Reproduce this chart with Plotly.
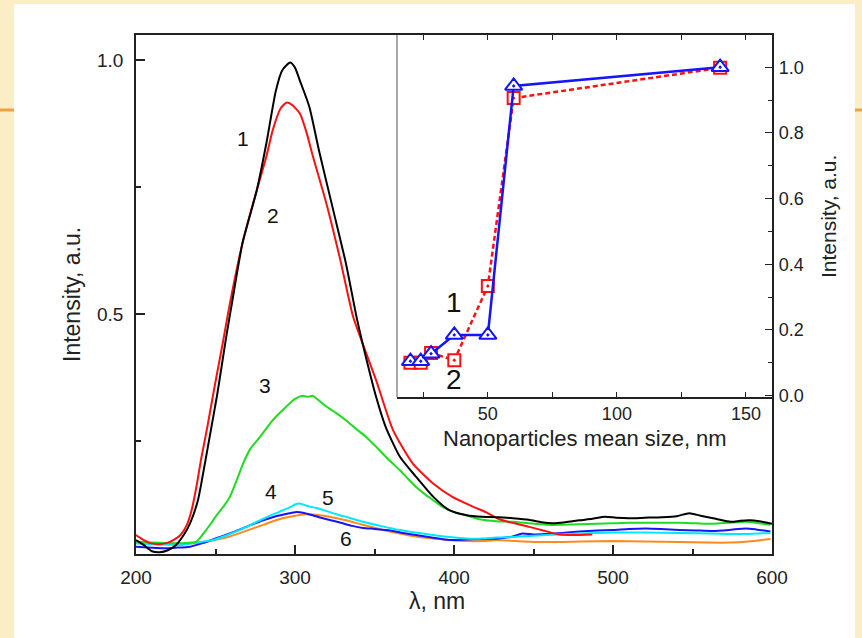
import plotly.graph_objects as go

# ---------------- data ----------------
wl1 = [200, 205, 210, 215, 220, 225, 230, 234, 239, 243, 247, 251, 254, 257, 260, 267, 276, 282, 288, 292, 297, 300, 303, 309, 315, 324, 332, 339, 345, 351, 357, 366, 376, 387, 397, 408, 418, 428, 437, 447, 455, 462, 470, 479, 487, 495, 502, 510, 520, 531, 540, 548, 555, 563, 570, 575, 580, 586, 592, 600]
int1 = [0.055, 0.045, 0.033, 0.031, 0.035, 0.045, 0.065, 0.088, 0.134, 0.2, 0.27, 0.34, 0.4, 0.46, 0.515, 0.64, 0.744, 0.836, 0.94, 0.98, 0.995, 0.985, 0.96, 0.908, 0.823, 0.705, 0.6, 0.49, 0.41, 0.337, 0.278, 0.219, 0.18, 0.14, 0.114, 0.104, 0.101, 0.1, 0.098, 0.095, 0.09, 0.088, 0.09, 0.094, 0.097, 0.101, 0.099, 0.098, 0.099, 0.1, 0.102, 0.108, 0.103, 0.098, 0.093, 0.091, 0.093, 0.094, 0.092, 0.087]

wl2 = [200, 205, 209, 215, 220, 224, 228, 232, 235, 238, 241, 245, 249, 254.7, 259, 267, 276, 282, 286, 291, 294.6, 298, 303, 307, 311.3, 319.7, 328, 336.5, 341, 351, 361.6, 374, 386.7, 399, 411.8, 420, 428.6, 438, 447.4, 456, 466, 475, 487]
int2 = [0.065, 0.055, 0.049, 0.047, 0.05, 0.056, 0.065, 0.085, 0.114, 0.16, 0.215, 0.28, 0.35, 0.445, 0.52, 0.64, 0.744, 0.81, 0.862, 0.905, 0.916, 0.912, 0.895, 0.86, 0.81, 0.718, 0.613, 0.495, 0.455, 0.37, 0.272, 0.206, 0.167, 0.14, 0.121, 0.11, 0.096, 0.088, 0.081, 0.074, 0.066, 0.065, 0.066]

wl3 = [200, 210, 220, 230, 238, 243, 246.5, 251, 255, 259, 263, 267.4, 272, 278, 286, 294.6, 300, 305, 308, 311, 315, 319.7, 326, 332, 338, 344.8, 350, 355, 360, 365.8, 371, 376, 381, 386.7, 392, 397, 402, 407.6, 416, 426.5, 437, 447, 458, 468, 479, 490, 500, 510, 525, 541.6, 552, 562.5, 573, 583.5, 590, 599]
int3 = [0.052, 0.05, 0.049, 0.049, 0.052, 0.07, 0.085, 0.105, 0.121, 0.14, 0.17, 0.206, 0.235, 0.258, 0.291, 0.318, 0.333, 0.339, 0.337, 0.339, 0.33, 0.318, 0.305, 0.291, 0.275, 0.258, 0.242, 0.226, 0.21, 0.193, 0.176, 0.16, 0.147, 0.134, 0.122, 0.114, 0.108, 0.104, 0.096, 0.092, 0.091, 0.088, 0.085, 0.085, 0.086, 0.087, 0.088, 0.089, 0.089, 0.089, 0.088, 0.087, 0.089, 0.091, 0.089, 0.085]

wl4 = [200, 210, 217, 225, 234, 242, 250, 259, 270, 280, 288, 296.7, 300, 305, 311, 317.6, 324, 330, 336, 342.7, 350, 360, 368, 376, 386, 397, 408, 418, 428, 437, 443, 450, 458, 468, 479, 490, 500, 510, 520.6, 530, 541.6, 552, 562.5, 573, 583.5, 590, 599]
int4 = [0.042, 0.04, 0.039, 0.04, 0.042, 0.049, 0.058, 0.068, 0.082, 0.094, 0.102, 0.108, 0.11, 0.109, 0.104, 0.098, 0.093, 0.088, 0.083, 0.079, 0.077, 0.074, 0.069, 0.065, 0.06, 0.055, 0.056, 0.057, 0.058, 0.062, 0.068, 0.066, 0.067, 0.069, 0.072, 0.074, 0.075, 0.077, 0.078, 0.077, 0.075, 0.074, 0.073, 0.075, 0.078, 0.076, 0.072]

wl5 = [200, 210, 220, 228, 238, 248.5, 259, 269.5, 280, 290.4, 297, 300, 303, 308, 313.5, 320, 326, 334, 342.7, 355, 365.8, 376, 386.7, 397, 407.6, 418, 426.5, 437, 447, 458, 479, 500, 520, 541.6, 562, 583.5, 599]
int5 = [0.049, 0.047, 0.046, 0.045, 0.05, 0.055, 0.067, 0.081, 0.097, 0.111, 0.12, 0.125, 0.127, 0.122, 0.118, 0.112, 0.106, 0.099, 0.091, 0.082, 0.075, 0.07, 0.065, 0.061, 0.058, 0.058, 0.06, 0.061, 0.063, 0.065, 0.068, 0.07, 0.07, 0.069, 0.068, 0.067, 0.069]

wl6 = [200, 215, 230, 238, 248, 259, 270, 280, 290, 296.7, 302, 307, 313, 321.8, 332, 342.7, 354, 365.8, 376, 386.7, 397, 407.6, 418, 426.5, 440, 458, 480, 500, 520, 541.6, 560, 573, 585, 599]
int6 = [0.049, 0.048, 0.048, 0.049, 0.054, 0.062, 0.074, 0.085, 0.096, 0.101, 0.104, 0.106, 0.105, 0.101, 0.094, 0.085, 0.076, 0.068, 0.062, 0.058, 0.055, 0.053, 0.053, 0.055, 0.053, 0.051, 0.052, 0.053, 0.052, 0.051, 0.05, 0.05, 0.052, 0.057]

# inset
size_nm = [20, 24, 28, 37, 50, 60, 140]
inset_1 = [0.105, 0.105, 0.128, 0.185, 0.185, 0.943, 1.0]
inset_2 = [0.10, 0.10, 0.13, 0.108, 0.334, 0.906, 0.998]

main_labels = ["1", "2", "3", "4", "5", "6"]
main_label_x = [267, 286, 281, 285, 321, 332]
main_label_y = [0.846, 0.693, 0.36, 0.15, 0.138, 0.059]
inset_labels = ["1", "2"]
inset_label_x = [37, 37]
inset_label_y = [0.285, 0.048]

# ---------------- figure ----------------
W, H = 862, 638
FONT = "Arial, Liberation Sans, sans-serif"

def fx(p):
    return p / W

def fy(p):
    return 1 - p / H

fig = go.Figure()

curves = [
    (wl6, int6, "#ff8a1c"),
    (wl4, int4, "#1414ff"),
    (wl5, int5, "#00e8ff"),
    (wl3, int3, "#1edc1e"),
    (wl2, int2, "#ff1010"),
    (wl1, int1, "#000000"),
]
for xs, ys, c in curves:
    fig.add_trace(go.Scatter(x=xs, y=ys, mode="lines", line=dict(color=c, width=2, shape="spline", smoothing=0.6),
                             xaxis="x", yaxis="y", showlegend=False, hoverinfo="skip"))

fig.add_trace(go.Scatter(x=size_nm, y=inset_2, mode="lines+markers",
                         line=dict(color="#ff1010", width=2.5, dash="5px,3px"),
                         marker=dict(symbol="square-dot", size=12, color="white",
                                     line=dict(color="#ff1010", width=2)),
                         xaxis="x2", yaxis="y2", showlegend=False, hoverinfo="skip"))
fig.add_trace(go.Scatter(x=size_nm, y=inset_1, mode="lines+markers",
                         line=dict(color="#1414ff", width=2.5),
                         marker=dict(symbol="triangle-up-dot", size=15, color="white",
                                     line=dict(color="#1414ff", width=2)),
                         xaxis="x2", yaxis="y2", showlegend=False, hoverinfo="skip"))

tickfont = dict(family=FONT, size=19, color="#222")
itickfont = dict(family=FONT, size=18, color="#222")

fig.update_layout(
    width=W, height=H,
    margin=dict(l=0, r=0, t=0, b=0, pad=0, autoexpand=False),
    paper_bgcolor="#fbedc6",
    plot_bgcolor="white",
    xaxis=dict(domain=[fx(136), fx(772)], range=[200, 600], anchor="y", automargin=False,
               tickmode="linear", tick0=200, dtick=100,
               ticks="inside", ticklen=9, tickwidth=1.5, tickcolor="#222",
               minor=dict(dtick=50, ticklen=5, ticks="inside", tickwidth=1.5, tickcolor="#222", showgrid=False),
               showline=True, linecolor="#222", linewidth=1.8, mirror=True,
               showgrid=False, zeroline=False, tickfont=tickfont, ticklabelstandoff=5),
    yaxis=dict(domain=[fy(554), fy(35)], range=[0.0276, 1.0492], anchor="x", automargin=False,
               tickmode="linear", tick0=0, dtick=0.5, tickformat=".1f",
               ticks="inside", ticklen=9, tickwidth=1.5, tickcolor="#222",
               minor=dict(dtick=0.25, ticklen=5, ticks="inside", tickwidth=1.5, tickcolor="#222", showgrid=False),
               showline=True, linecolor="#222", linewidth=1.8, mirror=True,
               showgrid=False, zeroline=False, tickfont=tickfont, ticklabelstandoff=7),
    xaxis2=dict(domain=[fx(397), fx(772)], range=[14.8, 160.1], anchor="y2", automargin=False,
                tickmode="linear", tick0=0, dtick=50,
                ticks="inside", ticklen=5, tickwidth=1.2, tickcolor="#222",
                minor=dict(dtick=25, ticklen=5, ticks="inside", tickwidth=1.2, tickcolor="#222", showgrid=False),
                showline=True, linecolor="#222", linewidth=1.5, mirror="ticks",
                showgrid=False, zeroline=False, tickfont=itickfont, ticklabelstandoff=0),
    yaxis2=dict(domain=[fy(397), fy(35)], range=[-0.004, 1.098], anchor="x2", side="right", automargin=False,
                tickmode="linear", tick0=0, dtick=0.2, tickformat=".1f",
                ticks="inside", ticklen=7, tickwidth=1.2, tickcolor="#222",
                minor=dict(dtick=0.1, ticklen=4, ticks="inside", tickwidth=1.2, tickcolor="#222", showgrid=False),
                showline=True, linecolor="#222", linewidth=2.2,
                showgrid=False, zeroline=False, tickfont=itickfont, ticklabelstandoff=1),
)

# slide background: white content area + orange rule on the borders
fig.add_shape(type="rect", xref="paper", yref="paper", x0=fx(14), x1=fx(855), y0=0, y1=fy(4),
              fillcolor="white", line=dict(width=0), layer="below")
fig.add_shape(type="line", xref="paper", yref="paper", x0=0, x1=fx(14), y0=fy(110), y1=fy(110),
              line=dict(color="#efa43a", width=3))
fig.add_shape(type="line", xref="paper", yref="paper", x0=fx(855), x1=1, y0=fy(110), y1=fy(110),
              line=dict(color="#efa43a", width=3))
# inset left border (thin)
fig.add_shape(type="line", xref="paper", yref="paper", x0=fx(397), x1=fx(397), y0=fy(397), y1=fy(35),
              line=dict(color="#555", width=1))

# curve labels
for t, x, y in zip(main_labels, main_label_x, main_label_y):
    fig.add_annotation(x=x, y=y, xref="x", yref="y", text=t, showarrow=False,
                       xanchor="center", yanchor="middle",
                       font=dict(family=FONT, size=21, color="#111"))
for t, x, y in zip(inset_labels, inset_label_x, inset_label_y):
    fig.add_annotation(x=x, y=y, xref="x2", yref="y2", text=t, showarrow=False,
                       xanchor="center", yanchor="middle",
                       font=dict(family=FONT, size=28, color="#111"))

# axis titles
def title(text, x, y, size, angle=0):
    fig.add_annotation(x=fx(x), y=fy(y), xref="paper", yref="paper", text=text, showarrow=False,
                       xanchor="center", yanchor="middle", textangle=angle,
                       font=dict(family=FONT, size=size, color="#222"))

title("λ, nm", 437, 601, 23)
title("Intensity, a.u.", 72, 295, 23, -90)
title("Nanoparticles mean size, nm", 585, 438, 22)
title("Intensity, a.u.", 829, 217, 21, -90)

fig.write_html("out.html")
